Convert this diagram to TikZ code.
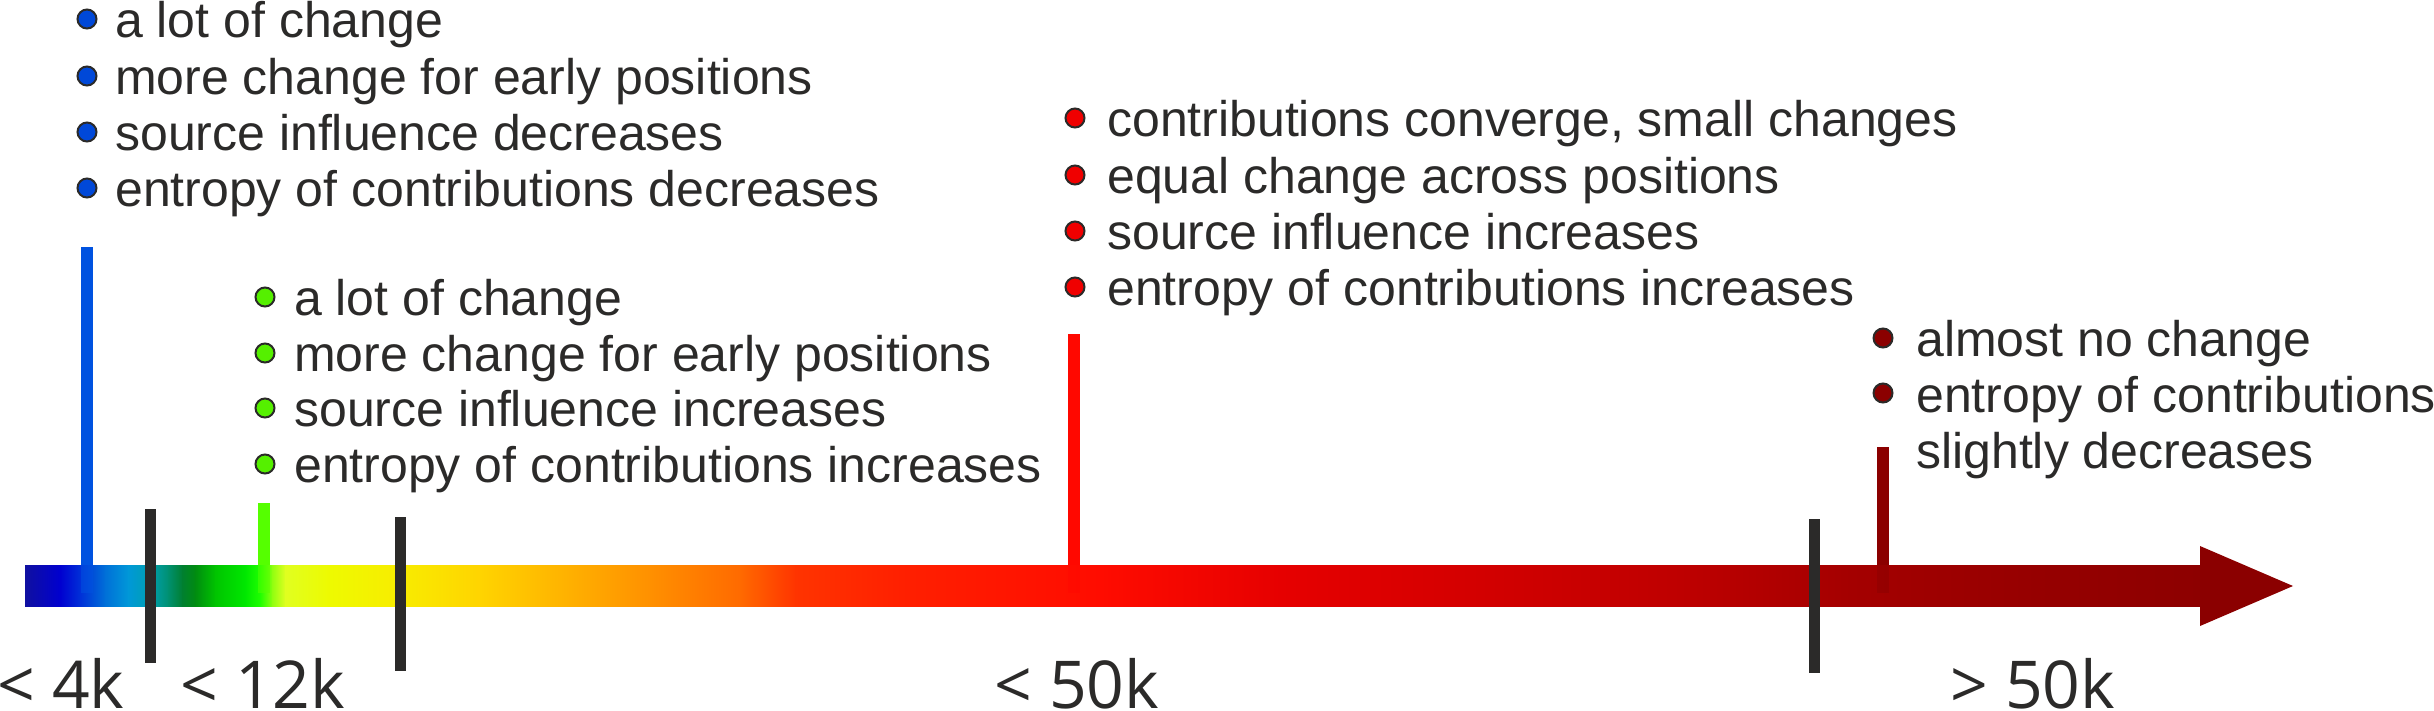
\documentclass[tikz,border=0pt]{standalone}
\usepackage{fontspec}
\setmainfont{Liberation Sans}
\newfontfamily\labelfont{Open Sans}
\definecolor{txt}{HTML}{2B2A29}
\definecolor{blueline}{HTML}{0052E0}
\definecolor{greenline}{HTML}{55FF00}
\definecolor{redline}{HTML}{FF0800}
\definecolor{darkline}{HTML}{8B0000}
\definecolor{bluedot}{HTML}{0048D8}
\definecolor{greendot}{HTML}{55F000}
\definecolor{reddot}{HTML}{F00000}
\definecolor{darkdot}{HTML}{8B0000}
\definecolor{s0}{HTML}{1010A0}
\definecolor{s1}{HTML}{0000D0}
\definecolor{s2}{HTML}{0030D8}
\definecolor{s3}{HTML}{0070D8}
\definecolor{s4}{HTML}{0098D8}
\definecolor{s5}{HTML}{00A0B0}
\definecolor{s6}{HTML}{009070}
\definecolor{s7}{HTML}{007F30}
\definecolor{s8}{HTML}{008C10}
\definecolor{s9}{HTML}{00C400}
\definecolor{s10}{HTML}{00E800}
\definecolor{s11}{HTML}{20FF00}
\definecolor{s12}{HTML}{90FF10}
\definecolor{s13}{HTML}{E0FF20}
\definecolor{s14}{HTML}{EEFA00}
\definecolor{s15}{HTML}{F8EC00}
\definecolor{s16}{HTML}{FFD400}
\definecolor{s17}{HTML}{FFB400}
\definecolor{s18}{HTML}{FF9000}
\definecolor{s19}{HTML}{FF6A00}
\definecolor{s20}{HTML}{FF3400}
\definecolor{s21}{HTML}{FF2000}
\definecolor{s22}{HTML}{FF0C00}
\definecolor{s23}{HTML}{E60000}
\definecolor{s24}{HTML}{D30000}
\definecolor{s25}{HTML}{BE0000}
\definecolor{s26}{HTML}{A40000}
\definecolor{s27}{HTML}{950000}
\definecolor{s28}{HTML}{8D0000}
\begin{document}
\begin{tikzpicture}[x=1pt,y=-1pt,
  item/.style={anchor=base west, inner sep=0pt, font=\fontsize{50}{60}\selectfont, text=txt},
  dot/.style={circle, draw=txt, line width=2pt, inner sep=0pt, minimum size=19pt},
  marker/.style={line width=12pt},
  tickmark/.style={line width=11pt, draw=txt},
  rangelabel/.style={anchor=base west, inner sep=0pt, font=\labelfont\fontsize{66}{70}\selectfont, text=txt}]
\useasboundingbox (0,0) rectangle (2434,710);
% gradient bar
\foreach \xa/\ca/\xb/\cb in {25/s0/60/s1, 60/s1/80/s2, 80/s2/105/s3, 105/s3/128/s4, 128/s4/150/s5,
  150/s5/168/s6, 168/s6/182/s7, 182/s7/195/s8, 195/s8/215/s9, 215/s9/245/s10, 245/s10/260/s11,
  260/s11/272/s12, 272/s12/285/s13, 285/s13/330/s14, 330/s14/400/s15, 400/s15/480/s16,
  480/s16/560/s17, 560/s17/650/s18, 650/s18/740/s19, 740/s19/795/s20, 795/s20/900/s21,
  900/s21/1100/s22, 1100/s22/1280/s23, 1280/s23/1480/s24, 1480/s24/1680/s25, 1680/s25/1850/s26,
  1850/s26/2050/s27, 2050/s27/2201/s28}
  \shade[left color=\ca, right color=\cb] (\xa,565) rectangle (\xb+0.8,606);
\fill[darkline] (2200,546) -- (2293,586) -- (2200,626) -- cycle;
\coordinate (bartop) at (0,565);
\coordinate (barin) at (0,593);
% markers
\coordinate (mA) at (87,247);
\coordinate (mB) at (264,503);
\coordinate (mC) at (1074,334);
\coordinate (mD) at (1883,447);
\foreach \m/\c in {mA/blueline, mB/greenline, mC/redline, mD/darkline}{
  \draw[marker, \c] (\m) -- (\m |- bartop);
  \draw[marker, \c, opacity=.5] (\m |- bartop) -- (\m |- barin);
}
% ticks
\coordinate (k1a) at (150,509); \coordinate (k1b) at (150,663);
\coordinate (k2a) at (400,517); \coordinate (k2b) at (400,671);
\coordinate (k3a) at (1814,519); \coordinate (k3b) at (1814,673);
\draw[tickmark] (k1a) -- (k1b);
\draw[tickmark] (k2a) -- (k2b);
\draw[tickmark] (k3a) -- (k3b);
% blue group
\node[dot, fill=bluedot] (a1) at (87,19) {};
\node[dot, fill=bluedot] (a2) at (87,76) {};
\node[dot, fill=bluedot] (a3) at (87,132) {};
\node[dot, fill=bluedot] (a4) at (87,188) {};
\node[item] (at1) at (115,37) {a lot of change};
\node[item] (at2) at (115,94) {more change for early positions};
\node[item] (at3) at (115,150) {source influence decreases};
\node[item] (at4) at (115,206) {entropy of contributions decreases};
% green group
\node[dot, fill=greendot] (g1) at (265,297) {};
\node[dot, fill=greendot] (g2) at (265,353) {};
\node[dot, fill=greendot] (g3) at (265,408) {};
\node[dot, fill=greendot] (g4) at (265,464) {};
\node[item] (gt1) at (294,315) {a lot of change};
\node[item] (gt2) at (294,371) {more change for early positions};
\node[item] (gt3) at (294,426) {source influence increases};
\node[item] (gt4) at (294,482) {entropy of contributions increases};
% red group
\node[dot, fill=reddot] (r1) at (1075,118) {};
\node[dot, fill=reddot] (r2) at (1075,175) {};
\node[dot, fill=reddot] (r3) at (1075,231) {};
\node[dot, fill=reddot] (r4) at (1075,287) {};
\node[item] (rt1) at (1107,136) {contributions converge, small changes};
\node[item] (rt2) at (1107,193) {equal change across positions};
\node[item] (rt3) at (1107,249) {source influence increases};
\node[item] (rt4) at (1107,305) {entropy of contributions increases};
% dark red group
\node[dot, fill=darkdot] (d1) at (1883,338) {};
\node[dot, fill=darkdot] (d2) at (1883,393) {};
\node[item] (dt1) at (1916,356) {almost no change};
\node[item] (dt2) at (1916,412) {entropy of contributions};
\node[item] (dt3) at (1916,468) {slightly decreases};
% range labels
\node[rangelabel] (l1) at (-3,708) {< 4k};
\node[rangelabel] (l2) at (180,708) {< 12k};
\node[rangelabel] (l3) at (994,708) {< 50k};
\node[rangelabel] (l4) at (1950,708) {> 50k};
\end{tikzpicture}
\end{document}
